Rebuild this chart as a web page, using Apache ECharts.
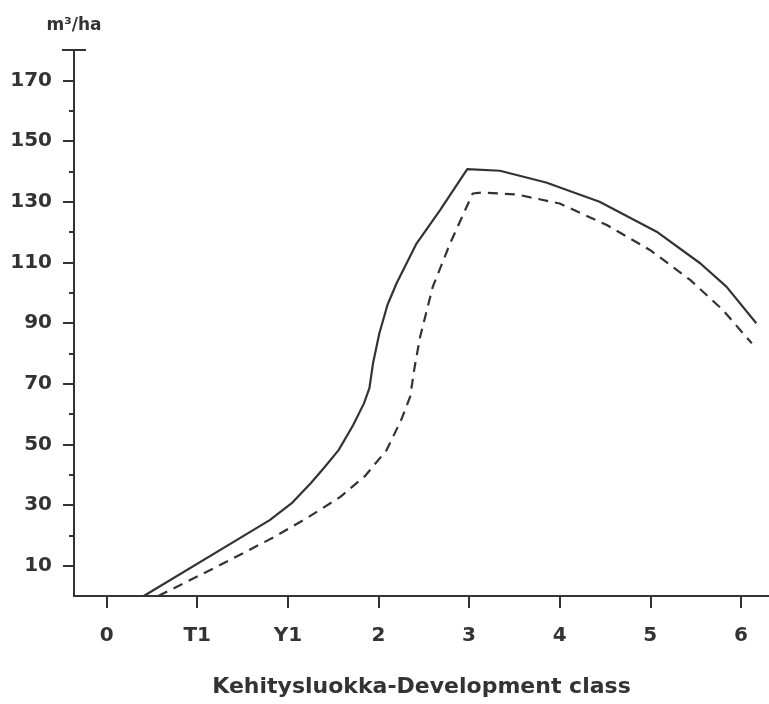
<!DOCTYPE html>
<html>
<head>
<meta charset="utf-8">
<style>html,body{margin:0;padding:0;background:#fff}#c{width:769px;height:704px}</style>
<script src="https://cdn.jsdelivr.net/npm/echarts@6/dist/echarts.min.js"></script>
</head>
<body>
<div id="c"></div>
<script>
const classPositions = [0, 1, 2, 3, 4, 5, 6, 7];
const classLabels = ['0', 'T1', 'Y1', '2', '3', '4', '5', '6'];
const yTickLabels = [10, 30, 50, 70, 90, 110, 130, 150, 170];
const yMinorTicks = [20, 40, 60, 80, 100, 120, 140, 160];
const solidX = [0.41, 1.80, 2.05, 2.25, 2.40, 2.56, 2.72, 2.84, 2.90, 2.94, 3.01, 3.10, 3.20, 3.42, 3.68, 3.98, 4.34, 4.85, 5.44, 6.07, 6.55, 6.84, 7.17];
const solidY = [0, 25.0, 30.8, 37.1, 42.3, 48.1, 56.3, 63.5, 68.5, 76.7, 86.6, 96.0, 103.1, 116.2, 127.2, 140.7, 140.2, 136.3, 130.0, 120.1, 109.7, 102.0, 89.9];
const dashX = [0.57, 1.22, 1.84, 2.20, 2.58, 2.85, 3.09, 3.25, 3.35, 3.40, 3.46, 3.60, 3.79, 4.04, 4.14, 4.52, 5.00, 5.52, 6.00, 6.44, 6.80, 7.12];
const dashY = [0, 9.7, 19.3, 25.5, 32.7, 39.5, 48.1, 58.0, 65.7, 75.6, 85.5, 102.0, 116.2, 132.7, 133.0, 132.4, 129.4, 122.3, 114.0, 104.2, 94.3, 83.3];

const ink = '#333';
const font = 'DejaVu Sans';
const chart = echarts.init(document.getElementById('c'));
chart.setOption({
  backgroundColor: '#fff',
  animation: false,
  grid: {left: 74, right: 0, top: 50, bottom: 108, containLabel: false},
  xAxis: {
    type: 'value', min: -0.36, max: 7.31,
    name: 'Kehitysluokka-Development class', nameLocation: 'middle', nameGap: 80,
    nameTextStyle: {fontFamily: font, fontWeight: 'bold', fontSize: 22, color: ink},
    axisLine: {onZero: false, lineStyle: {color: ink, width: 2}},
    axisTick: {show: true, customValues: classPositions, length: 12, lineStyle: {color: ink, width: 2}},
    axisLabel: {customValues: classPositions, formatter: v => classLabels[classPositions.indexOf(v)] ?? '',
      margin: 30, fontFamily: font, fontWeight: 'bold', fontSize: 20, color: ink},
    splitLine: {show: false}
  },
  yAxis: [{
    type: 'value', min: 0, max: 180,
    name: 'm³/ha', nameLocation: 'end', nameGap: 16,
    nameTextStyle: {fontFamily: font, fontWeight: 'bold', fontSize: 17, color: ink, align: 'center'},
    axisLine: {show: true, onZero: false, symbol: ['none', 'rect'], symbolSize: [24, 2], lineStyle: {color: ink, width: 2}},
    axisTick: {show: true, customValues: yTickLabels, length: 11, lineStyle: {color: ink, width: 2}},
    axisLabel: {customValues: yTickLabels, margin: 22, fontFamily: font, fontWeight: 'bold', fontSize: 20, color: ink},
    splitLine: {show: false}
  }, {
    type: 'value', min: 0, max: 180, position: 'left',
    axisLine: {show: false, onZero: false},
    axisTick: {show: true, customValues: yMinorTicks, length: 5, lineStyle: {color: ink, width: 2}},
    axisLabel: {show: false},
    splitLine: {show: false}
  }],
  series: [{
    type: 'line', symbol: 'none', smooth: false,
    data: solidX.map((x, i) => [x, solidY[i]]),
    lineStyle: {color: ink, width: 2.2}
  }, {
    type: 'line', symbol: 'none', smooth: false,
    data: dashX.map((x, i) => [x, dashY[i]]),
    lineStyle: {color: ink, width: 2.2, type: [10, 7]}
  }]
});
</script>
</body>
</html>
